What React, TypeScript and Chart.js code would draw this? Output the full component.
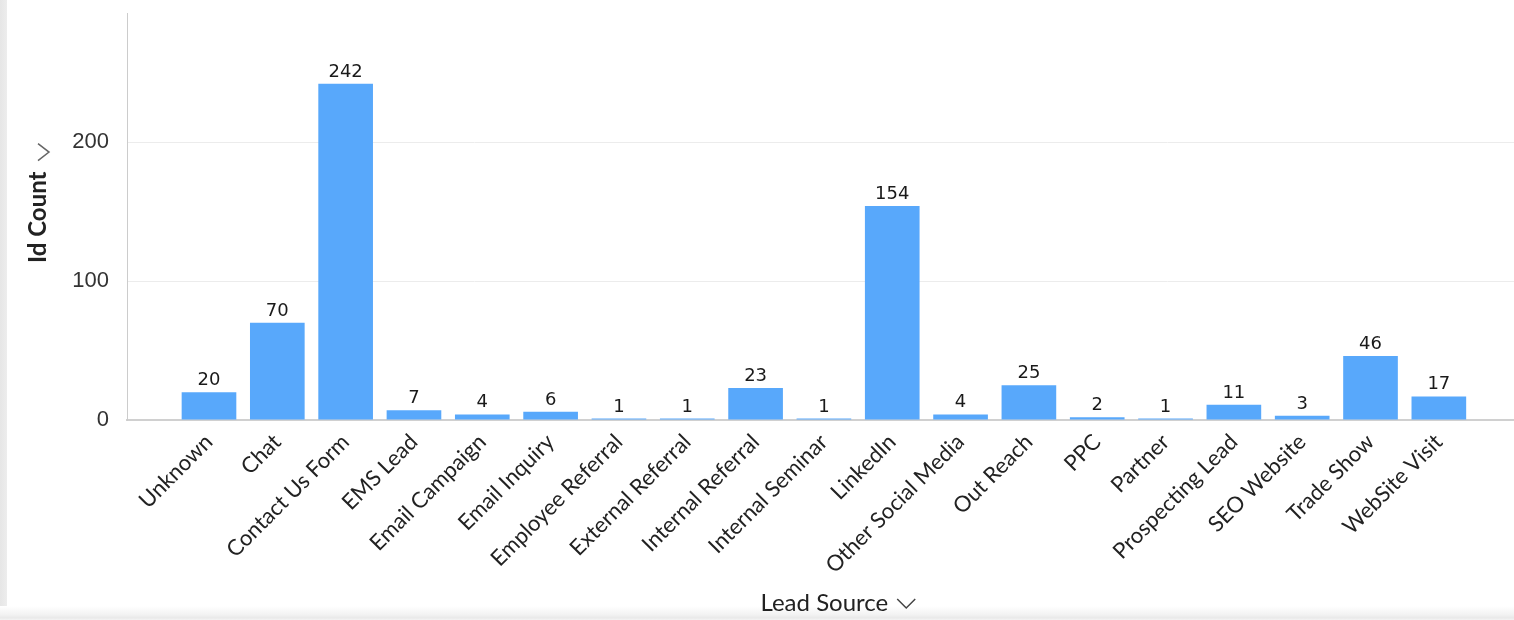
import React, { useEffect, useRef } from "react";
import { Chart, registerables } from "chart.js";

Chart.register(...registerables);

const categories = [
  "Unknown",
  "Chat",
  "Contact Us Form",
  "EMS Lead",
  "Email Campaign",
  "Email Inquiry",
  "Employee Referral",
  "External Referral",
  "Internal Referral",
  "Internal Seminar",
  "LinkedIn",
  "Other Social Media",
  "Out Reach",
  "PPC",
  "Partner",
  "Prospecting Lead",
  "SEO Website",
  "Trade Show",
  "WebSite Visit",
];
const idCounts = [20, 70, 242, 7, 4, 6, 1, 1, 23, 1, 154, 4, 25, 2, 1, 11, 3, 46, 17];
const yTickValues = [0, 100, 200];
const xTitle = "Lead Source";
const yTitle = "Id Count";

const BAR_COLOR = "#58a8fb";

export default function App() {
  const canvasRef = useRef<HTMLCanvasElement | null>(null);

  useEffect(() => {
    const canvas = canvasRef.current;
    if (!canvas) return;

    const dataLabels = {
      id: "dataLabels",
      afterDatasetsDraw(chart: any) {
        const ctx = chart.ctx;
        const meta = chart.getDatasetMeta(0);
        ctx.save();
        ctx.font = "18px 'DejaVu Sans'";
        ctx.fillStyle = "#1a1a1a";
        ctx.textAlign = "center";
        ctx.textBaseline = "alphabetic";
        meta.data.forEach((bar: any, i: number) => {
          ctx.fillText(String(idCounts[i]), bar.x, bar.y - 7);
        });
        ctx.restore();
      },
    };

    const axisTitles = {
      id: "axisTitles",
      afterDraw(chart: any) {
        const ctx = chart.ctx;
        const area = chart.chartArea;
        ctx.save();
        // X title
        ctx.font = "24px Lato";
        ctx.fillStyle = "#222";
        ctx.textAlign = "left";
        ctx.textBaseline = "alphabetic";
        const tx = (area.left + area.right) / 2 - 60;
        ctx.fillText(xTitle, tx, 611);
        const w = ctx.measureText(xTitle).width;
        const cx = tx + w + 9;
        ctx.strokeStyle = "#444";
        ctx.lineWidth = 1.5;
        ctx.beginPath();
        ctx.moveTo(cx, 599);
        ctx.lineTo(cx + 9, 608);
        ctx.lineTo(cx + 18, 599);
        ctx.stroke();

        // Y title
        ctx.save();
        ctx.translate(38, 263);
        ctx.rotate(-Math.PI / 2);
        ctx.font = "bold 24px Lato";
        ctx.fillStyle = "#222";
        ctx.fillText(yTitle, 0, 0);
        const yw = ctx.measureText(yTitle).width;
        ctx.restore();
        const cy = 263 - yw - 11;
        ctx.strokeStyle = "#666";
        ctx.beginPath();
        ctx.moveTo(30, cy);
        ctx.lineTo(41, cy - 8.5);
        ctx.lineTo(30, cy - 17);
        ctx.stroke();
        ctx.restore();
      },
    };

    const chart = new Chart(canvas, {
      type: "bar",
      data: {
        datasets: [
          {
            data: idCounts.map((v, i) => ({ x: i, y: v })),
            backgroundColor: BAR_COLOR,
            borderWidth: 0,
            barPercentage: 0.8,
            categoryPercentage: 1,
          },
        ],
      },
      options: {
        animation: false,
        responsive: false,
        maintainAspectRatio: false,
        layout: { padding: { top: 13, left: 0, right: 0, bottom: 0 } },
        plugins: {
          legend: { display: false },
          tooltip: { enabled: false },
          title: { display: false },
        },
        scales: {
          x: {
            type: "linear",
            min: -1.2,
            max: 19.1,
            offset: false,
            afterBuildTicks(scale: any) {
              scale.ticks = categories.map((_, i) => ({ value: i }));
            },
            afterFit(scale: any) {
              scale.height = 200;
              scale.paddingLeft = 0;
              scale.paddingRight = 0;
            },
            grid: { display: false, drawTicks: false },
            border: { display: true, color: "#d0d0d0", width: 2 },
            ticks: {
              autoSkip: false,
              minRotation: 45,
              maxRotation: 45,
              padding: 9,
              color: "#222",
              font: { family: "Lato", size: 22 },
              callback: (value: any) => categories[value] ?? "",
            },
          },
          y: {
            min: 0,
            max: 293,
            afterBuildTicks(scale: any) {
              scale.ticks = yTickValues.map((v) => ({ value: v }));
            },
            afterFit(scale: any) {
              scale.width = 119;
              scale.paddingTop = 0;
              scale.paddingBottom = 0;
            },
            grid: { color: "#ececec", drawTicks: false, lineWidth: 1 },
            border: { display: true, color: "#cccccc", width: 1 },
            ticks: {
              padding: 18,
              color: "#333",
              font: { family: "'Liberation Sans'", size: 22 },
            },
          },
        },
      },
      plugins: [dataLabels, axisTitles],
    });

    return () => chart.destroy();
  }, []);

  return (
    <div
      style={{
        position: "relative",
        width: 1514,
        height: 620,
        background: "#fff",
        overflow: "hidden",
      }}
    >
      <style>{`body{margin:0;}`}</style>
      <div
        style={{
          position: "absolute",
          left: 0,
          top: 0,
          width: 7,
          height: 620,
          background: "linear-gradient(to right, #e6e6e6, #ededed)",
        }}
      />
      <div
        style={{
          position: "absolute",
          left: 0,
          bottom: 0,
          width: 1514,
          height: 14,
          background: "linear-gradient(to bottom, #ffffff, #f3f3f3 60%, #e9e9e9 85%, #f4f4f4)",
        }}
      />
      <canvas
        ref={canvasRef}
        width={1506}
        height={620}
        style={{ position: "absolute", left: 8, top: 0, width: 1506, height: 620 }}
      />
    </div>
  );
}
